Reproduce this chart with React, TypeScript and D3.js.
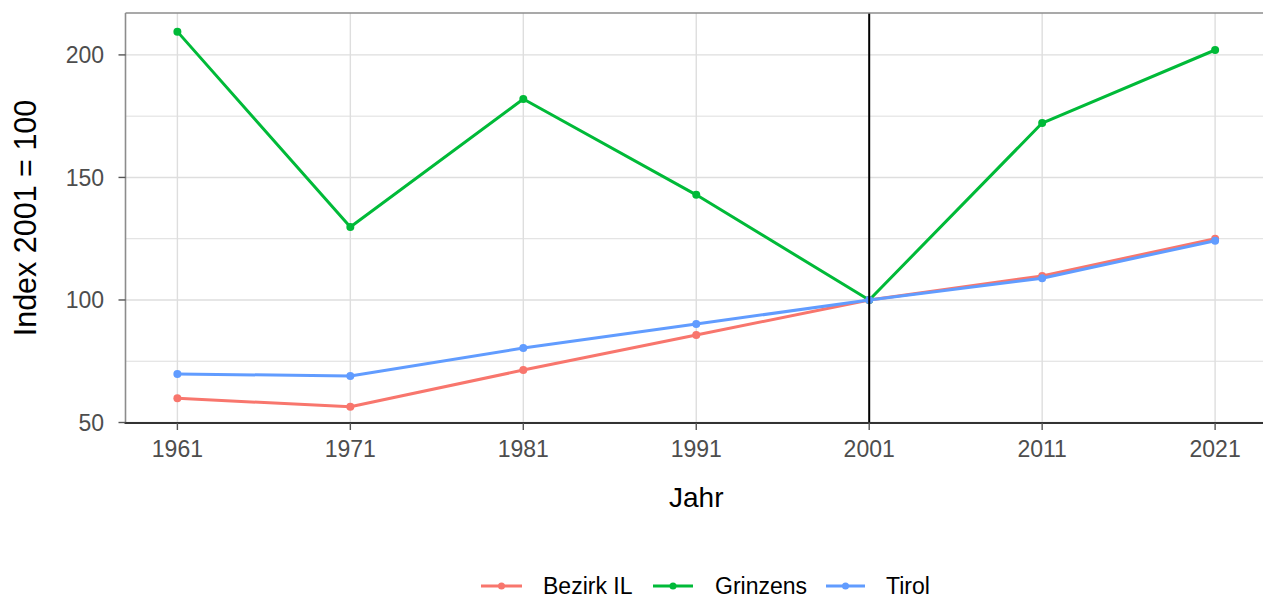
import React from "react";
import * as d3 from "d3";

const years = [1961, 1971, 1981, 1991, 2001, 2011, 2021];
const bezirkIL = [59.9, 56.4, 71.4, 85.7, 100, 109.8, 125.0];
const grinzens = [209.5, 129.8, 182.0, 142.9, 100, 172.2, 202.0];
const tirol = [69.8, 69.0, 80.4, 90.2, 100, 108.9, 124.2];
const seriesNames = ["Bezirk IL", "Grinzens", "Tirol"];
const seriesColors = ["#F8766D", "#00BA38", "#619CFF"];
const yTicks = [50, 100, 150, 200];
const yMinor = [75, 125, 175];
const refYear = 2001;

const W = 1263;
const H = 598;
const FONT = "'Liberation Sans', Arial, Helvetica, sans-serif";

export default function App() {
  const left = 125.5, right = 1267, top = 13, bottom = 423;
  const x = d3.scaleLinear().domain([1958, 2024]).range([left, right]);
  const y = d3.scaleLinear().domain([49.8, 217.1]).range([bottom, top]);
  const data = [bezirkIL, grinzens, tirol];
  const line = d3
    .line<number>()
    .x((_, i) => x(years[i]))
    .y((d) => y(d));

  const legendKeys = [
    { kx1: 481, kx2: 522, tx: 543 },
    { kx1: 653, kx2: 693, tx: 715 },
    { kx1: 826, kx2: 865, tx: 886 },
  ];

  return (
    <svg
      width={W}
      height={H}
      style={{ position: "absolute", left: 0, top: 0, background: "#fff" }}
      fontFamily={FONT}
    >
      <rect x={0} y={0} width={W} height={H} fill="#fff" />
      {yMinor.map((t) => (
        <line key={"m" + t} x1={left} x2={right} y1={y(t)} y2={y(t)} stroke="#dedede" strokeWidth={1} />
      ))}
      {yTicks.map((t) => (
        <line key={"g" + t} x1={left} x2={right} y1={y(t)} y2={y(t)} stroke="#dedede" strokeWidth={1.4} />
      ))}
      {years.map((t) => (
        <line key={"v" + t} x1={x(t)} x2={x(t)} y1={top} y2={bottom} stroke="#dedede" strokeWidth={1.4} />
      ))}
      {data.map((vals, si) => (
        <g key={seriesNames[si]}>
          <path d={line(vals) || ""} fill="none" stroke={seriesColors[si]} strokeWidth={3} strokeLinejoin="round" />
          {vals.map((v, i) => (
            <circle key={i} cx={x(years[i])} cy={y(v)} r={4} fill={seriesColors[si]} />
          ))}
        </g>
      ))}
      <line x1={x(refYear)} x2={x(refYear)} y1={top} y2={bottom} stroke="#000" strokeWidth={2} />
      <line x1={left} x2={right} y1={top} y2={top} stroke="#8c8c8c" strokeWidth={1.6} />
      <line x1={left} x2={left} y1={top} y2={bottom} stroke="#8c8c8c" strokeWidth={1.6} />
      <line x1={left - 1} x2={right} y1={bottom} y2={bottom} stroke="#333" strokeWidth={2} />
      {yTicks.map((t) => (
        <g key={"yt" + t}>
          <line x1={left - 7} x2={left} y1={y(t)} y2={y(t)} stroke="#555" strokeWidth={1.4} />
          <text x={104} y={y(t)} dy="0.36em" textAnchor="end" fontSize={23} fill="#4d4d4d">
            {t}
          </text>
        </g>
      ))}
      {years.map((t) => (
        <g key={"xt" + t}>
          <line x1={x(t)} x2={x(t)} y1={bottom} y2={bottom + 7} stroke="#555" strokeWidth={1.4} />
          <text x={x(t)} y={457} textAnchor="middle" fontSize={23} fill="#4d4d4d">
            {t}
          </text>
        </g>
      ))}
      <text x={(left + right) / 2} y={507} textAnchor="middle" fontSize={28} fill="#000">
        Jahr
      </text>
      <text
        transform={`translate(36,${(top + bottom) / 2}) rotate(-90)`}
        textAnchor="middle"
        fontSize={30.5}
        fill="#000"
      >
        Index 2001 = 100
      </text>
      {legendKeys.map((k, i) => (
        <g key={"lg" + i}>
          <line x1={k.kx1} x2={k.kx2} y1={586} y2={586} stroke={seriesColors[i]} strokeWidth={3} />
          <circle cx={(k.kx1 + k.kx2) / 2} cy={586} r={3.5} fill={seriesColors[i]} />
          <text x={k.tx} y={594} fontSize={23} fill="#000">
            {seriesNames[i]}
          </text>
        </g>
      ))}
    </svg>
  );
}
